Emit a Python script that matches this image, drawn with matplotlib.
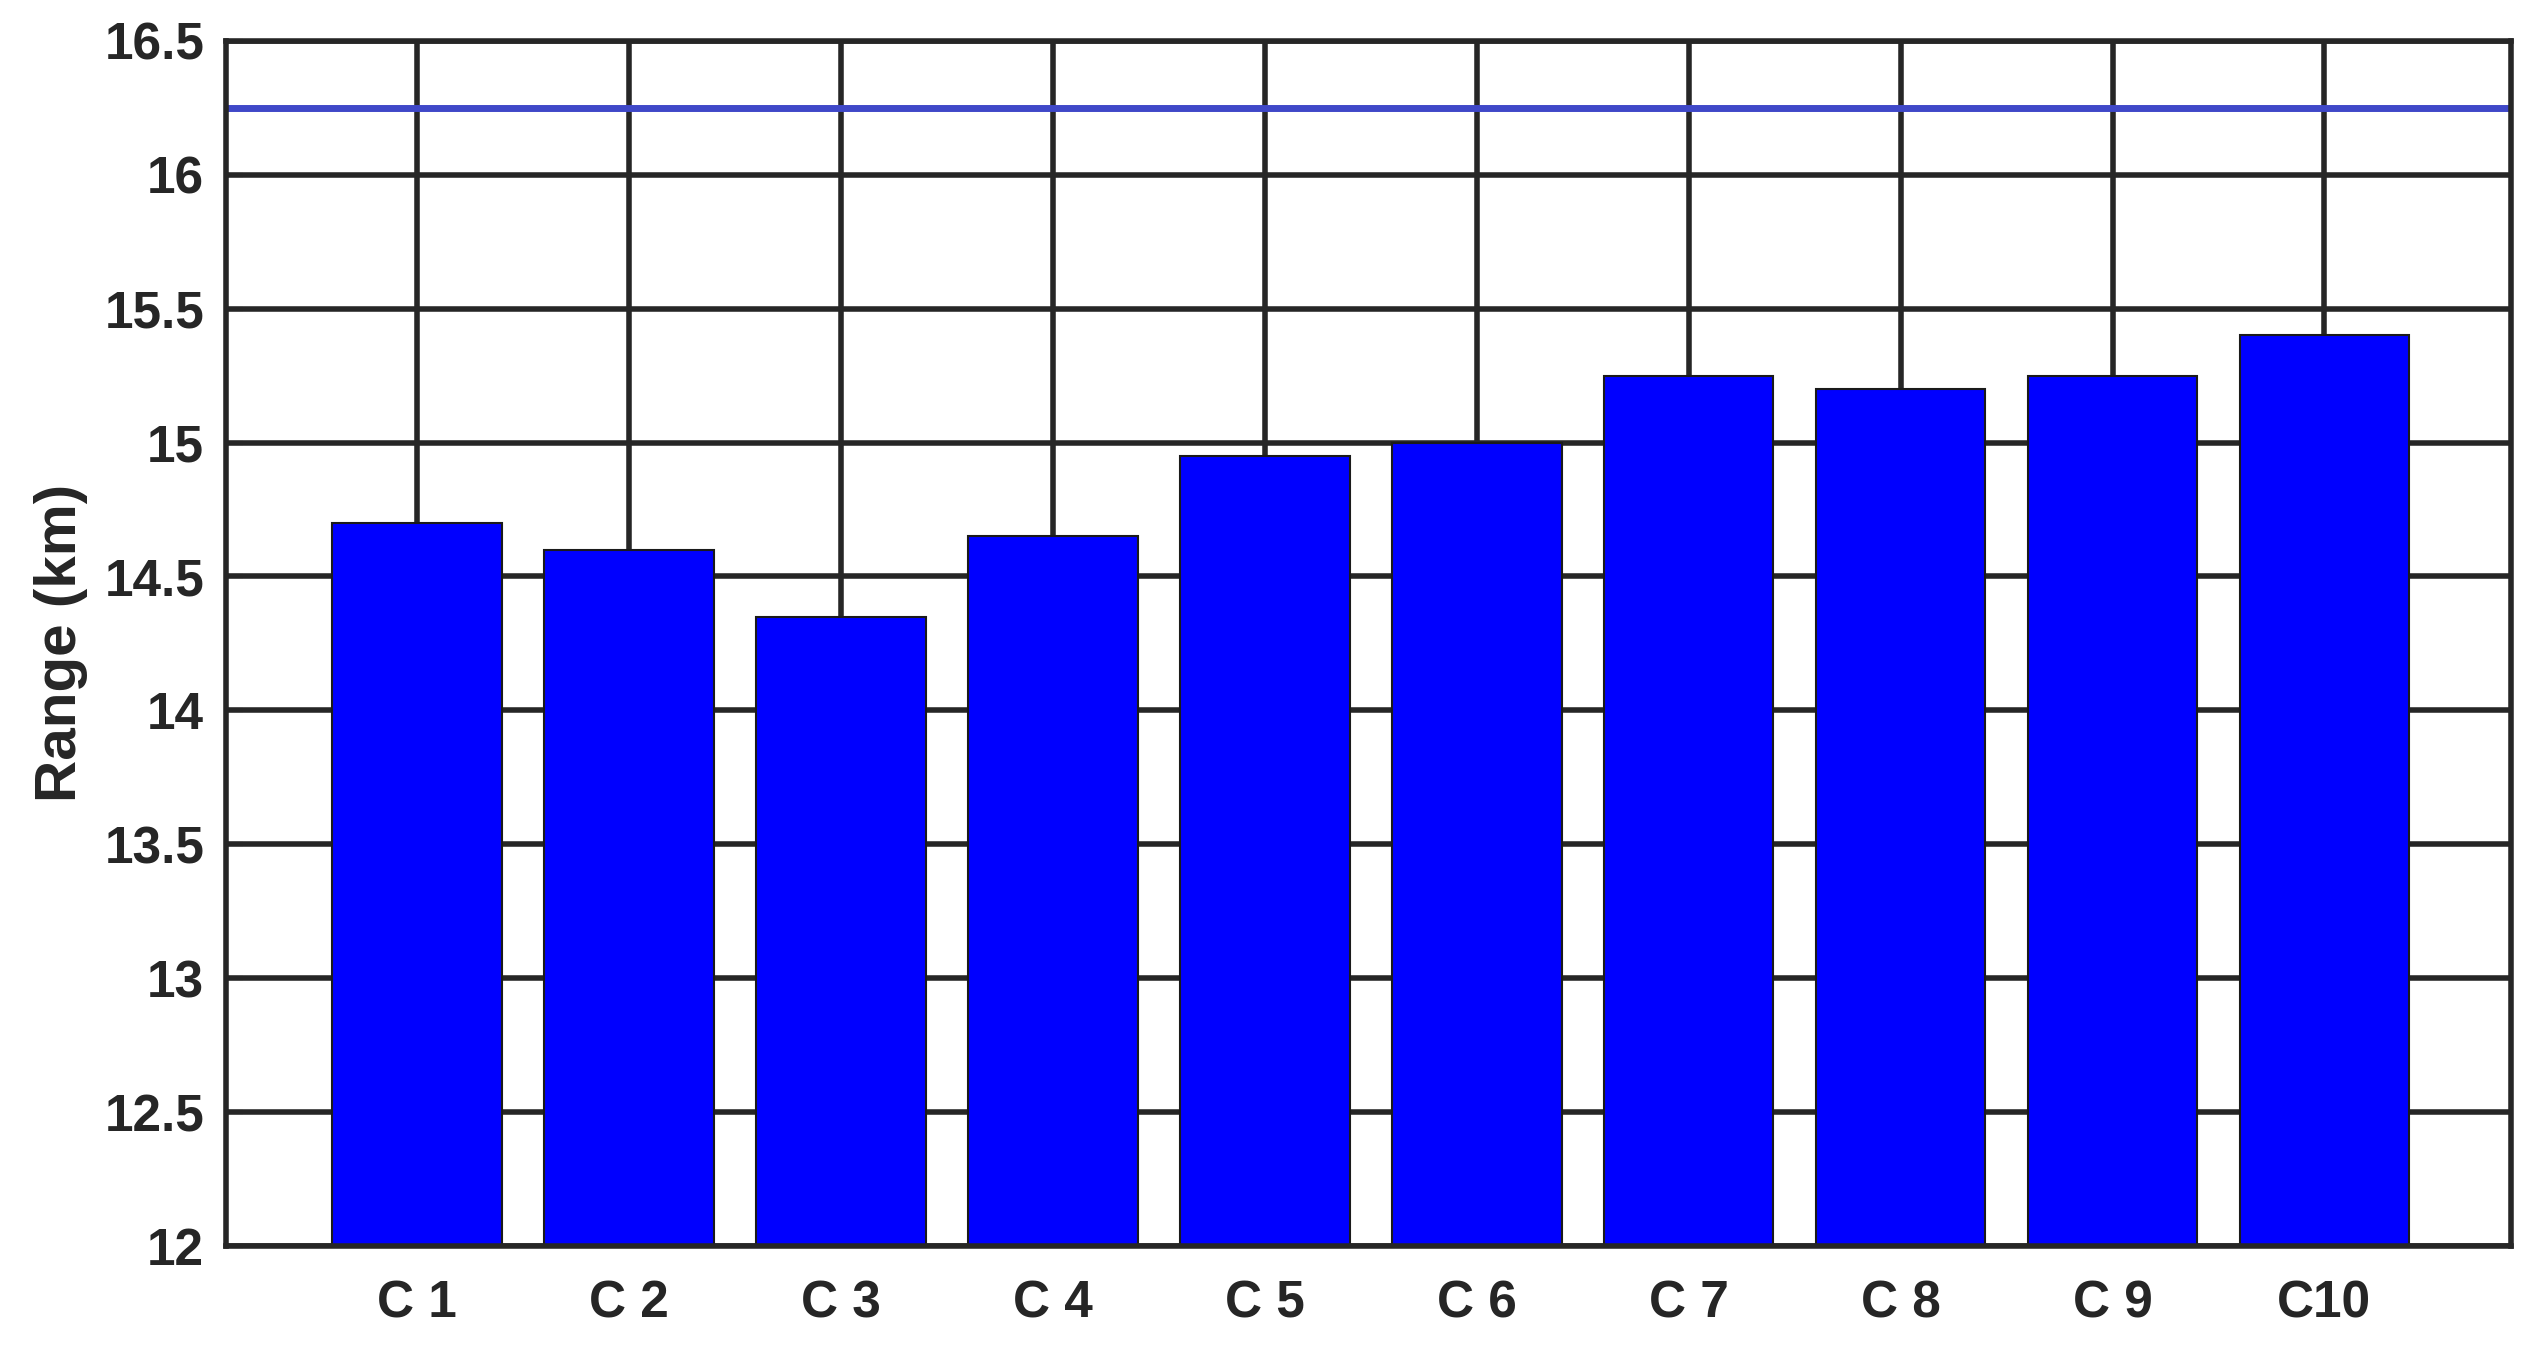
import numpy as np
import matplotlib.pyplot as plt

categories = ["C 1", "C 2", "C 3", "C 4", "C 5", "C 6", "C 7", "C 8", "C 9", "C10"]
ranges = [14.7, 14.6, 14.35, 14.65, 14.95, 15.0, 15.25, 15.2, 15.25, 15.4]
reference_range = 16.25
y_ticks = [12, 12.5, 13, 13.5, 14, 14.5, 15, 15.5, 16, 16.5]
y_tick_labels = ["12", "12.5", "13", "13.5", "14", "14.5", "15", "15.5", "16", "16.5"]

plt.rcParams['font.family'] = ['Liberation Sans', 'DejaVu Sans']
plt.rcParams['font.weight'] = 'bold'

fig = plt.figure(figsize=(25.44, 13.56), dpi=100)
ax = fig.add_axes([0.089, 0.081, 0.898, 0.889])

x = np.arange(1, len(categories) + 1)
ax.bar(x, ranges, width=0.8, color="#0000FF", edgecolor="#1a1a1a", linewidth=1.5, zorder=2)
ax.axhline(reference_range, color="#3F48C8", linewidth=5, zorder=3)

ax.set_xlim(0.1, 10.88)
ax.set_ylim(12, 16.5)
ax.set_xticks(x)
ax.set_xticklabels(categories)
ax.set_yticks(y_ticks)
ax.set_yticklabels(y_tick_labels)

ax.set_axisbelow(True)
ax.grid(True, color="#262626", linewidth=4)
ax.tick_params(axis='both', direction='in', length=12, width=3, colors="#262626",
               labelsize=37, pad=16)
ax.tick_params(axis='x', pad=24)
for side in ax.spines.values():
    side.set_linewidth(4)
    side.set_color("#262626")
    side.set_zorder(4)

ax.set_ylabel("Range (km)", fontsize=42, fontweight='bold', color="#262626", labelpad=12)

fig.savefig("out.png", dpi=100)
